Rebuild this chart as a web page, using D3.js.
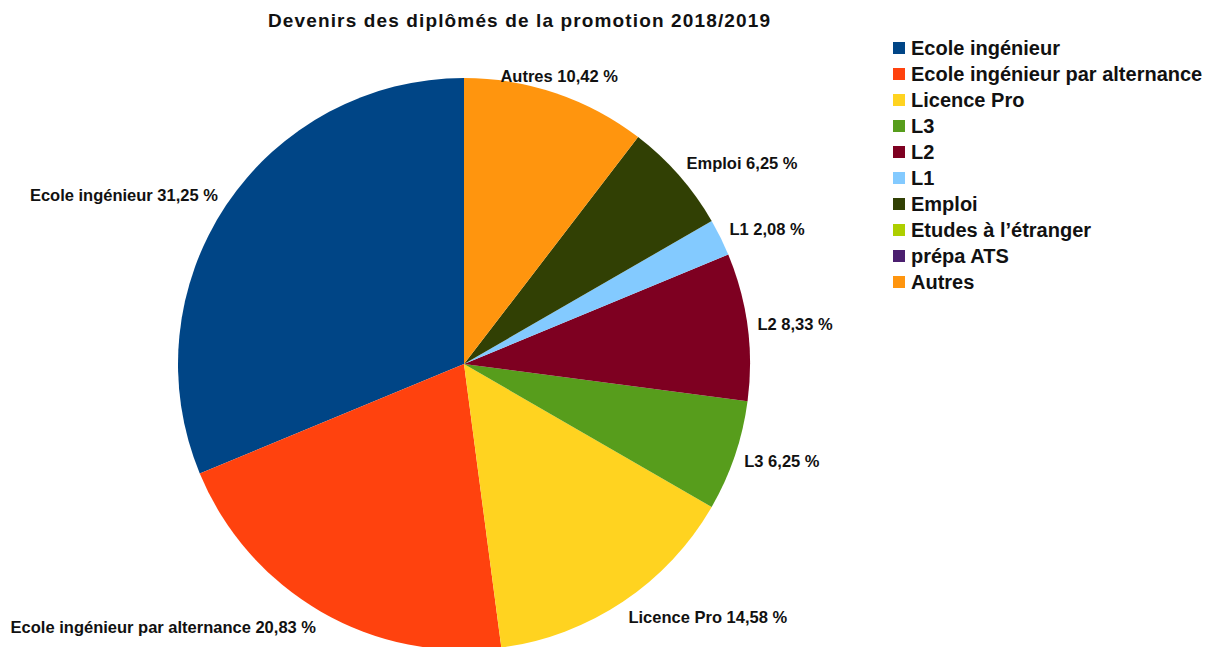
<!DOCTYPE html>
<html>
<head>
<meta charset="utf-8">
<script src="https://cdn.jsdelivr.net/npm/d3@7"></script>
<style>
  body { margin: 0; background: #fff; }
  text { font-family: "Liberation Sans", Arial, sans-serif; font-weight: bold; fill: #111; }
</style>
</head>
<body>
<svg id="chart" width="1210" height="647"></svg>
<script>
// DATA -----------------------------------------------------------
const categories = ["Ecole ingénieur", "Ecole ingénieur par alternance", "Licence Pro", "L3", "L2", "L1", "Emploi", "Etudes à l’étranger", "prépa ATS", "Autres"]
const counts = [15, 10, 7, 3, 4, 1, 3, 0, 0, 5]
const colors = ["#004586", "#ff420e", "#ffd320", "#579d1c", "#7e0021", "#83caff", "#314004", "#aecf00", "#4b1f6f", "#ff950e"]
const title = "Devenirs des diplômés de la promotion 2018/2019"

const width = 1210
const height = 647
const cx = 464, cy = 364, radius = 286
const labelRadius = 296

const svg = d3.select("#chart")

const total = d3.sum(counts)
const data_ready = categories.map((c, i) => ({ name: c, value: counts[i], color: colors[i] }))

// title
svg.append("text")
    .attr("x", 519)
    .attr("y", 27)
    .attr("text-anchor", "middle")
    .attr("textLength", 502)
    .attr("lengthAdjust", "spacing")
    .style("font-size", "19px")
    .text(title)

// PIE -----------------------------------------------------------
// LibreOffice-style: starts at 12 o'clock and runs counterclockwise
const pie = d3.pie()
    .sort(null)
    .value(d => d.value)
    .startAngle(0)
    .endAngle(-2 * Math.PI)

const arc = d3.arc().innerRadius(0).outerRadius(radius)

const arcs = pie(data_ready)

const group = svg.append("g")
    .attr("transform", `translate(${cx}, ${cy})`)

group.selectAll("path")
    .data(arcs)
    .join("path")
    .attr("d", arc)
    .attr("fill", d => d.data.color)

// labels
const fmt = v => (v * 100).toFixed(2).replace(".", ",") + " %"

group.selectAll("text.label")
    .data(arcs.filter(d => d.value > 0))
    .join("text")
    .attr("class", "label")
    .each(function(d) {
        const a = (d.startAngle + d.endAngle) / 2
        const s = Math.sin(a), c = Math.cos(a)
        const x = labelRadius * s
        const y = -labelRadius * c
        const anchor = s > 0.4 ? "start" : (s < -0.4 ? "end" : "middle")
        d3.select(this)
            .attr("x", x)
            .attr("y", y - c * 8)
            .attr("dy", "0.35em")
            .attr("text-anchor", anchor)
            .style("font-size", "16.5px")
            .text(d.data.name + " " + fmt(d.value / total))
    })

// LEGEND -----------------------------------------------------------
const legend = svg.append("g")
    .attr("transform", "translate(893, 48)")

const rows = legend.selectAll("g")
    .data(data_ready)
    .join("g")
    .attr("transform", (d, i) => `translate(0, ${i * 26})`)

rows.append("rect")
    .attr("x", 0)
    .attr("y", -6)
    .attr("width", 12)
    .attr("height", 12)
    .attr("fill", d => d.color)

rows.append("text")
    .attr("x", 18)
    .attr("y", 0)
    .attr("dy", "0.36em")
    .style("font-size", "20px")
    .text(d => d.name)
</script>
</body>
</html>
